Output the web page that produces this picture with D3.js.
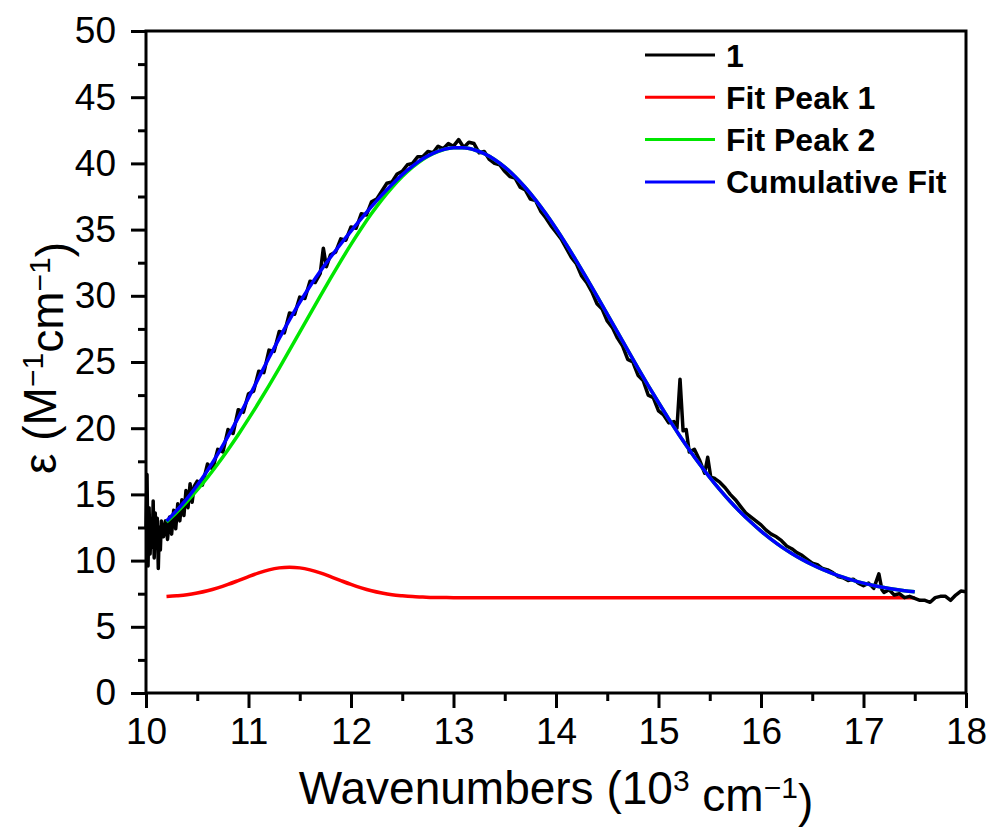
<!DOCTYPE html>
<html>
<head>
<meta charset="utf-8">
<script src="https://cdn.jsdelivr.net/npm/d3@7"></script>
<style>
  body { margin: 0; background: #fff; }
  svg { font-family: "Liberation Sans", Arial, sans-serif; }
</style>
</head>
<body>
<div class="chart"></div>
<script>
var svgWidth = 995;
var svgHeight = 827;

var margin = { top: 31, right: 29, bottom: 134, left: 146 };
var width = svgWidth - margin.left - margin.right;
var height = svgHeight - margin.top - margin.bottom;

// measured spectrum "1" : [wavenumber (10^3 cm^-1), epsilon]
var spectrum = [
  [10.00, 12.5], [10.01, 16.5], [10.02, 9.6], [10.03, 14.0], [10.04, 10.5], [10.05, 12.8],
  [10.06, 11.0], [10.07, 14.5], [10.08, 10.2], [10.09, 13.6], [10.10, 11.5], [10.11, 13.2],
  [10.12, 9.4], [10.13, 12.5], [10.14, 10.8], [10.15, 13.0], [10.17, 11.8], [10.19, 13.0],
  [10.21, 11.6], [10.23, 13.3], [10.25, 12.0], [10.27, 13.8], [10.29, 12.4], [10.31, 14.3],
  [10.33, 13.0], [10.35, 14.6], [10.37, 13.4], [10.39, 15.3], [10.41, 14.0], [10.43, 15.8],
  [10.45, 14.4], [10.47, 15.6], [10.50, 16.0], [10.55, 15.7], [10.60, 17.3], [10.65, 16.9],
  [10.70, 18.4], [10.75, 18.2], [10.80, 19.9], [10.85, 19.6], [10.90, 21.4], [10.95, 21.2],
  [11.00, 22.6], [11.05, 22.8], [11.10, 24.3], [11.15, 24.2], [11.20, 25.9], [11.25, 25.8],
  [11.30, 27.3], [11.35, 27.2], [11.40, 28.7], [11.45, 28.6], [11.50, 29.9], [11.55, 29.8],
  [11.60, 31.1], [11.65, 31.0], [11.70, 31.7], [11.73, 33.6], [11.76, 32.2], [11.80, 33.1],
  [11.85, 33.3], [11.90, 34.3], [11.95, 34.2], [12.00, 35.2], [12.05, 35.1], [12.10, 36.2],
  [12.15, 36.1], [12.20, 37.1], [12.25, 37.3], [12.30, 37.9], [12.35, 38.5], [12.40, 38.6],
  [12.45, 39.2], [12.50, 39.4], [12.55, 39.9], [12.60, 40.0], [12.65, 40.5], [12.70, 40.5],
  [12.75, 40.9], [12.80, 40.8], [12.85, 41.3], [12.90, 41.1], [12.95, 41.5], [13.00, 41.3],
  [13.05, 41.8], [13.10, 41.2], [13.15, 41.6], [13.20, 41.5], [13.25, 40.8], [13.30, 40.9],
  [13.35, 40.3], [13.40, 40.0], [13.45, 39.9], [13.50, 39.4], [13.55, 39.0], [13.60, 38.9],
  [13.65, 38.2], [13.70, 38.0], [13.75, 37.3], [13.80, 37.2], [13.85, 36.4], [13.90, 35.9],
  [13.95, 35.3], [14.00, 34.8], [14.05, 34.3], [14.10, 33.6], [14.15, 32.9], [14.20, 32.4],
  [14.25, 31.5], [14.30, 31.0], [14.35, 30.3], [14.40, 29.4], [14.45, 29.0], [14.50, 28.1],
  [14.55, 27.6], [14.60, 26.8], [14.65, 26.2], [14.70, 25.2], [14.75, 25.0], [14.80, 24.0],
  [14.85, 23.6], [14.90, 22.5], [14.95, 22.3], [15.00, 21.3], [15.05, 21.0], [15.10, 20.4],
  [15.15, 20.5], [15.18, 20.0], [15.21, 23.7], [15.24, 19.8], [15.27, 19.9], [15.30, 18.2],
  [15.35, 18.4], [15.40, 17.6], [15.45, 16.6], [15.48, 17.8], [15.51, 16.3], [15.55, 16.2],
  [15.60, 15.9], [15.65, 15.5], [15.70, 15.0], [15.75, 14.6], [15.80, 14.1], [15.85, 13.6],
  [15.90, 13.3], [15.95, 13.0], [16.00, 12.7], [16.05, 12.3], [16.10, 12.0], [16.15, 11.8],
  [16.20, 11.5], [16.25, 11.1], [16.30, 10.9], [16.35, 10.6], [16.40, 10.4], [16.45, 10.1],
  [16.50, 9.8], [16.55, 9.7], [16.60, 9.4], [16.65, 9.3], [16.70, 9.1], [16.75, 8.8],
  [16.80, 8.7], [16.85, 8.5], [16.90, 8.6], [16.95, 8.3], [17.00, 8.1], [17.05, 8.3],
  [17.10, 7.9], [17.15, 9.0], [17.18, 7.8], [17.20, 7.6], [17.25, 7.8], [17.30, 7.4],
  [17.35, 7.5], [17.40, 7.2], [17.45, 7.3], [17.50, 7.15], [17.55, 7.0], [17.60, 7.0],
  [17.65, 6.85], [17.70, 7.2], [17.75, 7.3], [17.80, 7.3], [17.85, 7.0], [17.90, 7.4],
  [17.95, 7.7], [18.00, 7.65]
];

// wavenumbers where the fit curves were read
var fitX = [
  10.2, 10.3, 10.4, 10.5, 10.6, 10.7, 10.8, 10.9, 11.0, 11.1, 11.2, 11.3, 11.4, 11.5, 11.6,
  11.7, 11.8, 11.9, 12.0, 12.1, 12.2, 12.3, 12.4, 12.5, 12.6, 12.7, 12.8, 12.9, 13.0, 13.1,
  13.2, 13.3, 13.4, 13.5, 13.6, 13.7, 13.8, 13.9, 14.0, 14.1, 14.2, 14.3, 14.4, 14.5, 14.6,
  14.7, 14.8, 14.9, 15.0, 15.1, 15.2, 15.3, 15.4, 15.5, 15.6, 15.7, 15.8, 15.9, 16.0, 16.1,
  16.2, 16.3, 16.4, 16.5, 16.6, 16.7, 16.8, 16.9, 17.0, 17.1, 17.2, 17.3, 17.4, 17.5
];

var fitPeak1 = [
  7.28, 7.34, 7.42, 7.55, 7.72, 7.94, 8.20, 8.49, 8.79, 9.07, 9.30, 9.45, 9.50, 9.45, 9.30,
  9.07, 8.79, 8.49, 8.20, 7.94, 7.72, 7.55, 7.42, 7.34, 7.28, 7.25, 7.22, 7.21, 7.20, 7.20,
  7.20, 7.20, 7.20, 7.20, 7.20, 7.20, 7.20, 7.20, 7.20, 7.20, 7.20, 7.20, 7.20, 7.20, 7.20,
  7.20, 7.20, 7.20, 7.20, 7.20, 7.20, 7.20, 7.20, 7.20, 7.20, 7.20, 7.20, 7.20, 7.20, 7.20,
  7.20, 7.20, 7.20, 7.20, 7.20, 7.20, 7.20, 7.20, 7.20, 7.20, 7.20, 7.20, 7.20, 7.20
];

var fitPeak2 = [
  12.91, 13.65, 14.46, 15.34, 16.29, 17.30, 18.38, 19.51, 20.70, 21.94, 23.22, 24.54, 25.89, 27.25, 28.62,
  29.98, 31.32, 32.62, 33.88, 35.08, 36.21, 37.25, 38.18, 39.01, 39.72, 40.30, 40.74, 41.03, 41.18, 41.18,
  41.03, 40.74, 40.30, 39.72, 39.01, 38.18, 37.25, 36.21, 35.08, 33.88, 32.62, 31.32, 29.98, 28.62, 27.25,
  25.89, 24.54, 23.22, 21.94, 20.70, 19.51, 18.38, 17.30, 16.29, 15.34, 14.46, 13.65, 12.91, 12.22, 11.60,
  11.04, 10.54, 10.09, 9.69, 9.33, 9.02, 8.75, 8.51, 8.30, 8.12, 7.97, 7.84, 7.73, 7.64
];

var cumulativeFit = [
  12.99, 13.79, 14.68, 15.69, 16.81, 18.04, 19.38, 20.80, 22.29, 23.81, 25.32, 26.79, 28.19, 29.50, 30.72,
  31.85, 32.91, 33.91, 34.88, 35.82, 36.73, 37.60, 38.40, 39.15, 39.80, 40.35, 40.76, 41.04, 41.18, 41.18,
  41.03, 40.74, 40.30, 39.72, 39.01, 38.18, 37.25, 36.21, 35.08, 33.88, 32.62, 31.32, 29.98, 28.62, 27.25,
  25.89, 24.54, 23.22, 21.94, 20.70, 19.51, 18.38, 17.30, 16.29, 15.34, 14.46, 13.65, 12.91, 12.22, 11.60,
  11.04, 10.54, 10.09, 9.69, 9.33, 9.02, 8.75, 8.51, 8.30, 8.12, 7.97, 7.84, 7.73, 7.64
];

var xTicks = [10, 11, 12, 13, 14, 15, 16, 17, 18];
var xMinor = [10.5, 11.5, 12.5, 13.5, 14.5, 15.5, 16.5, 17.5];
var yTicks = [0, 5, 10, 15, 20, 25, 30, 35, 40, 45, 50];
var yMinor = [2.5, 7.5, 12.5, 17.5, 22.5, 27.5, 32.5, 37.5, 42.5, 47.5];

var legendNames = ["1", "Fit Peak 1", "Fit Peak 2", "Cumulative Fit"];
var legendColors = ["#000000", "#ff0000", "#00e600", "#0000ff"];

var svg = d3.select(".chart")
  .append("svg")
  .attr("width", svgWidth)
  .attr("height", svgHeight);

var chartGroup = svg.append("g")
  .attr("transform", `translate(${margin.left}, ${margin.top})`);

var xScale = d3.scaleLinear().domain([10, 18]).range([0, width]);
var yScale = d3.scaleLinear().domain([0, 50]).range([height, 0]);

// axes: major ticks with labels, minor ticks without
function styleAxis(g) {
  g.select(".domain").remove();
  g.selectAll("line").attr("stroke", "#000").attr("stroke-width", 3);
  g.selectAll("text").attr("fill", "#000").style("font-size", "37px");
}

chartGroup.append("g")
  .attr("transform", `translate(0, ${height})`)
  .call(d3.axisBottom(xScale).tickValues(xTicks).tickSize(15).tickPadding(10).tickFormat(d3.format("d")))
  .call(styleAxis);

chartGroup.append("g")
  .attr("transform", `translate(0, ${height})`)
  .call(d3.axisBottom(xScale).tickValues(xMinor).tickSize(8).tickFormat(""))
  .call(styleAxis);

chartGroup.append("g")
  .call(d3.axisLeft(yScale).tickValues(yTicks).tickSize(15).tickPadding(15).tickFormat(d3.format("d")))
  .call(styleAxis);

chartGroup.append("g")
  .call(d3.axisLeft(yScale).tickValues(yMinor).tickSize(8).tickFormat(""))
  .call(styleAxis);

// curves
var line = d3.line()
  .x(d => xScale(d[0]))
  .y(d => yScale(d[1]));

var smooth = d3.line()
  .x(d => xScale(d[0]))
  .y(d => yScale(d[1]))
  .curve(d3.curveMonotoneX);

chartGroup.append("path")
  .datum(fitX.map((x, i) => [x, fitPeak1[i]]))
  .attr("d", smooth)
  .attr("fill", "none")
  .attr("stroke", legendColors[1])
  .attr("stroke-width", 3.5);

chartGroup.append("path")
  .datum(spectrum)
  .attr("d", line)
  .attr("fill", "none")
  .attr("stroke", legendColors[0])
  .attr("stroke-width", 3.5)
  .attr("stroke-linejoin", "round");

chartGroup.append("path")
  .datum(fitX.map((x, i) => [x, fitPeak2[i]]))
  .attr("d", smooth)
  .attr("fill", "none")
  .attr("stroke", legendColors[2])
  .attr("stroke-width", 3.5);

chartGroup.append("path")
  .datum(fitX.map((x, i) => [x, cumulativeFit[i]]))
  .attr("d", smooth)
  .attr("fill", "none")
  .attr("stroke", legendColors[3])
  .attr("stroke-width", 3.5);

// frame
chartGroup.append("rect")
  .attr("width", width)
  .attr("height", height)
  .attr("fill", "none")
  .attr("stroke", "#000")
  .attr("stroke-width", 3);

// legend
var legend = svg.append("g").attr("transform", "translate(645, 55)");
legendNames.forEach(function(name, i) {
  var row = legend.append("g").attr("transform", `translate(0, ${i * 42.3})`);
  row.append("line")
    .attr("x1", 0).attr("x2", 70)
    .attr("stroke", legendColors[i])
    .attr("stroke-width", 3);
  row.append("text")
    .attr("x", 81)
    .attr("y", 11.5)
    .style("font-size", "32px")
    .style("font-weight", "bold")
    .text(name);
});

// axis titles
var xTitle = svg.append("text")
  .attr("x", margin.left + width / 2)
  .attr("y", 804)
  .attr("text-anchor", "middle")
  .style("font-size", "46px");
xTitle.append("tspan").text("Wavenumbers (10");
xTitle.append("tspan").attr("dy", "-0.42em").style("font-size", "30px").text("3");
xTitle.append("tspan").attr("dy", "0.42em").text(" cm");
xTitle.append("tspan").attr("dy", "-0.42em").style("font-size", "30px").text("\u22121");
xTitle.append("tspan").attr("dy", "0.42em").text(")");

var yTitle = svg.append("text")
  .attr("transform", "translate(56, 358) rotate(-90)")
  .attr("text-anchor", "middle")
  .style("font-size", "46px");
yTitle.append("tspan").text("\u03b5 (M");
yTitle.append("tspan").attr("dy", "-0.42em").style("font-size", "30px").text("\u22121");
yTitle.append("tspan").attr("dy", "0.42em").text("cm");
yTitle.append("tspan").attr("dy", "-0.42em").style("font-size", "30px").text("\u22121");
yTitle.append("tspan").attr("dy", "0.42em").text(")");
</script>
</body>
</html>
